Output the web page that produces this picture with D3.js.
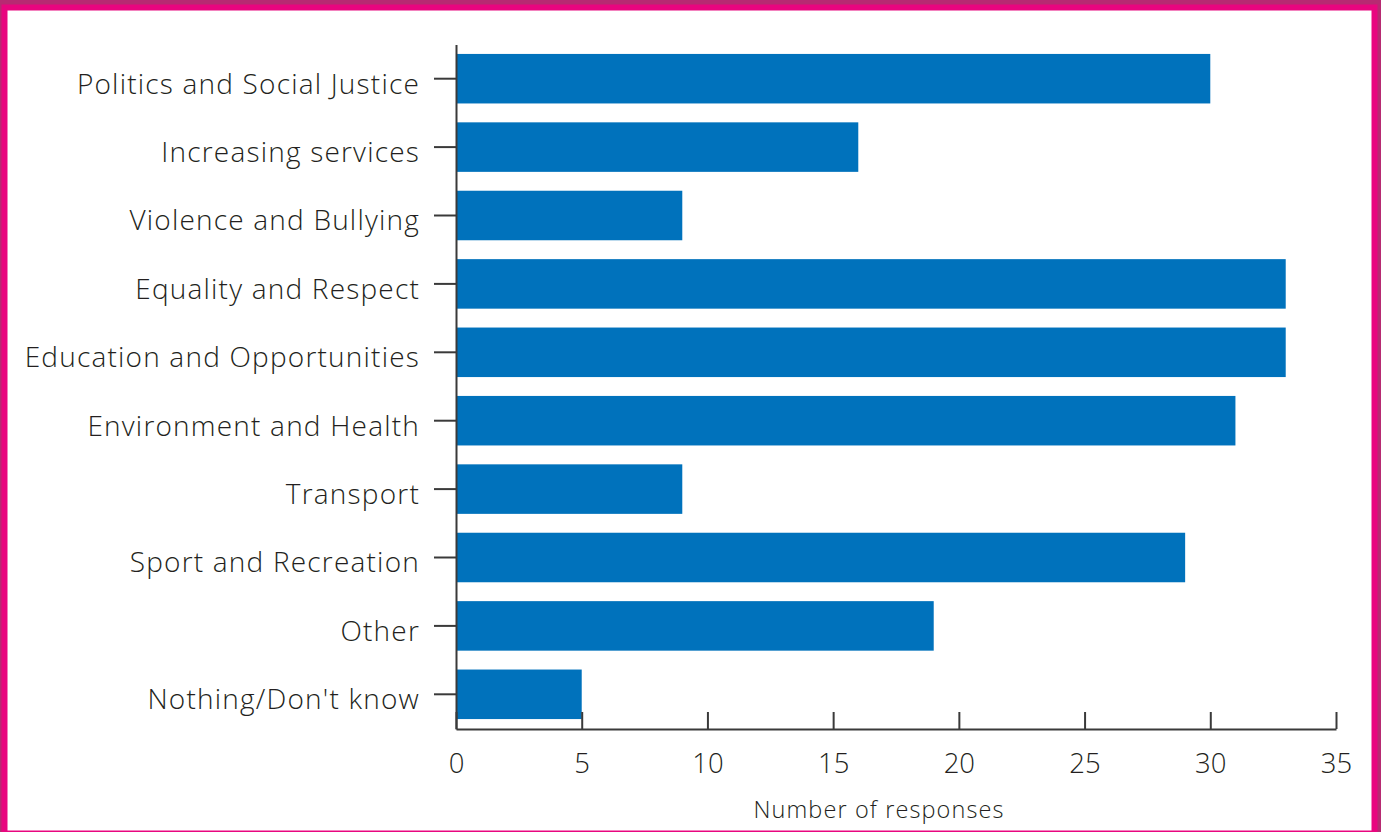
<!DOCTYPE html>
<html>
<head>
<meta charset="UTF-8">
<script src="https://d3js.org/d3.v7.min.js"></script>
<style>
  html, body { margin: 0; padding: 0; background: #b72a72; }
  svg { display: block; }
  text { font-family: "Open Sans", Lato, sans-serif; font-weight: 300; fill: #231f20; }
</style>
</head>
<body>
<div class="chart"></div>
<script>
var categories = ["Politics and Social Justice", "Increasing services", "Violence and Bullying",
  "Equality and Respect", "Education and Opportunities", "Environment and Health",
  "Transport", "Sport and Recreation", "Other", "Nothing/Don't know"];
var responses = [30, 16, 9, 33, 33, 31, 9, 29, 19, 5];
var xTicks = [0, 5, 10, 15, 20, 25, 30, 35];
var xTitle = "Number of responses";

var width = 1381, height = 832;

var svg = d3.select(".chart").append("svg")
  .attr("width", width)
  .attr("height", height);

// pink frame + white card
svg.append("rect")
  .attr("x", 4.5).attr("y", 7.5)
  .attr("width", 1370).attr("height", 826)
  .attr("fill", "#fff")
  .attr("stroke", "#e8067f")
  .attr("stroke-width", 6);

var x = d3.scaleLinear().domain([0, 35]).range([456, 1336]);
var y = d3.scaleBand().domain(categories).range([44.5, 728.5])
  .paddingInner(0.276).paddingOuter(0.138);

svg.append("g").selectAll("rect")
  .data(categories)
  .enter().append("rect")
    .attr("x", x(0))
    .attr("y", function(d) { return y(d); })
    .attr("width", function(d, i) { return x(responses[i]) - x(0); })
    .attr("height", y.bandwidth())
    .attr("fill", "#0072bc");

// y axis
var yAxis = svg.append("g")
  .attr("transform", "translate(" + x(0) + ",0)")
  .call(d3.axisLeft(y).tickSize(22).tickPadding(14).tickSizeOuter(0));
yAxis.select(".domain").attr("d", "M0.5,45V729.5").attr("stroke", "#3a3a3a").attr("stroke-width", 2);
yAxis.selectAll(".tick line").attr("stroke", "#3a3a3a").attr("stroke-width", 2);
yAxis.selectAll(".tick text")
  .attr("font-size", 28).attr("font-family", null).attr("fill", "#231f20")
  .attr("letter-spacing", 1.2)
  .attr("y", 6);

// x axis, ticks point up
var xAxis = svg.append("g")
  .attr("transform", "translate(0,729)")
  .call(d3.axisBottom(x).tickValues(xTicks).tickSize(-17).tickPadding(24).tickSizeOuter(0));
xAxis.select(".domain").attr("stroke", "#3a3a3a").attr("stroke-width", 2);
xAxis.selectAll(".tick line").attr("stroke", "#3a3a3a").attr("stroke-width", 2);
xAxis.selectAll(".tick text").attr("font-size", 27.5).attr("font-family", null).attr("fill", "#231f20");

svg.append("text")
  .attr("x", 879)
  .attr("y", 818)
  .attr("text-anchor", "middle")
  .attr("font-size", 23.5)
  .attr("letter-spacing", 1.1)
  .text(xTitle);
</script>
</body>
</html>
